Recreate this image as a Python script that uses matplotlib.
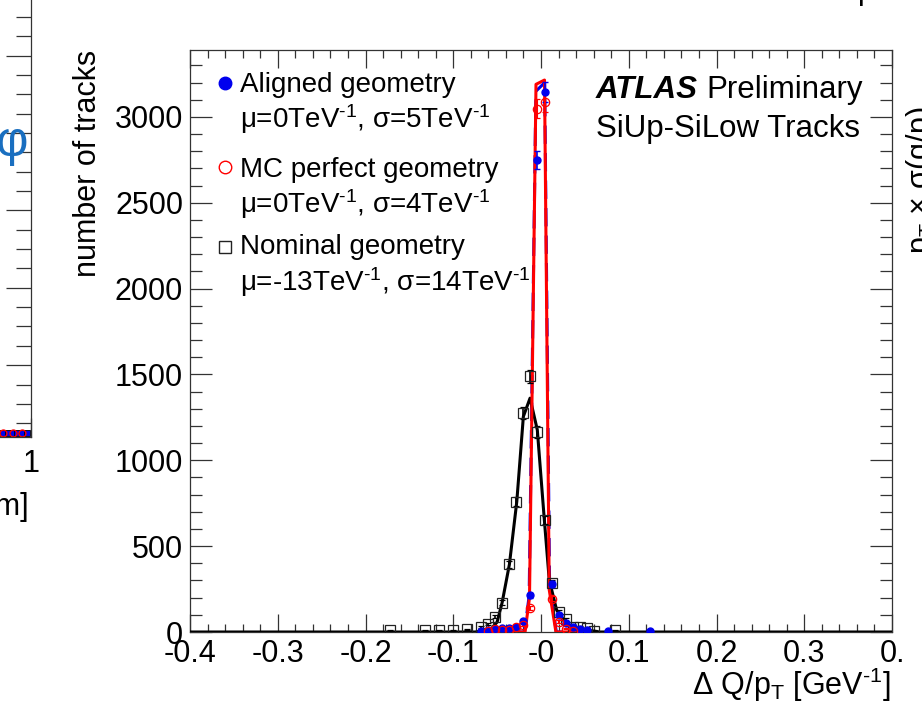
import matplotlib
matplotlib.use('Agg')
import matplotlib.pyplot as plt
from matplotlib.ticker import MultipleLocator, FixedLocator
import numpy as np

plt.rcParams['font.family'] = ['Liberation Sans', 'DejaVu Sans']
plt.rcParams['mathtext.fontset'] = 'custom'
plt.rcParams['mathtext.rm'] = 'Liberation Sans'
plt.rcParams['mathtext.it'] = 'Liberation Sans:italic'
plt.rcParams['mathtext.bf'] = 'Liberation Sans:bold'
plt.rcParams['mathtext.default'] = 'regular'
plt.rcParams['axes.unicode_minus'] = False

W, H, DPI = 922, 718, 100

# Nominal geometry (open squares), bin centres in GeV^-1
nom_x = [-0.172, -0.132, -0.116, -0.100, -0.084, -0.068, -0.060, -0.052, -0.044,
         -0.036, -0.028, -0.020, -0.012, -0.004, 0.004, 0.012, 0.020, 0.028,
         0.036, 0.044, 0.052, 0.060, 0.084]
nom_n = [10, 10, 10, 10, 15, 31, 47, 89, 171,
         394, 759, 1275, 1490, 1167, 653, 285, 118, 74,
         31, 31, 22, 8, 10]

# Aligned geometry (filled circles)
ali_x = [-0.068, -0.060, -0.052, -0.044, -0.036, -0.028, -0.020, -0.012, -0.004,
         0.004, 0.012, 0.020, 0.028, 0.036, 0.044, 0.052, 0.076, 0.124]
ali_n = [8, 12, 15, 21, 21, 31, 64, 215, 2747,
         3146, 280, 99, 51, 30, 16, 10, 8, 5]

# MC perfect geometry (open circles)
mc_x = [-0.060, -0.052, -0.044, -0.036, -0.028, -0.020, -0.012, -0.004,
        0.004, 0.012, 0.020, 0.028, 0.036]
mc_n = [5, 16, 10, 12, 27, 40, 140, 3048,
        3085, 195, 60, 20, 8]

# fitted curves as drawn (coarse polylines)
nom_fit_x = [-0.4, -0.075, -0.0693, -0.0614, -0.056, -0.050, -0.0443, -0.036, -0.0276,
             -0.0201, -0.0125, -0.0042, 0.0038, 0.0094, 0.0178, 0.0292, 0.0443, 0.067, 0.4]
nom_fit_y = [0, 0, 5, 15, 22, 58, 171, 394, 759,
             1255, 1362, 1177, 653, 303, 128, 41, 17, 0, 0]
ali_fit_x = [-0.060, -0.0188, -0.0135, -0.0058, 0.0042, 0.0098, 0.0175, 0.035]
ali_fit_y = [0, 0, 210, 3150, 3200, 270, 0, 0]
mc_fit_x = [-0.058, -0.0182, -0.0131, -0.0057, 0.0040, 0.0094, 0.0170, 0.034]
mc_fit_y = [0, 0, 200, 3190, 3215, 245, 0, 0]

xticks = [-0.4, -0.3, -0.2, -0.1, 0.0, 0.1, 0.2, 0.3, 0.4]
xtick_labels = ['-0.4', '-0.3', '-0.2', '-0.1', '-0', '0.1', '0.2', '0.3', '0.']

# bits of the neighbouring left panel
frag_x = [0.885, 0.905, 0.925, 0.945, 0.965, 0.985]
frag_y = [4, 4, 4, 4, 4, 4]

BLUE = '#0000ee'
RED = '#ff0000'
TXT = 20
INV = r'TeV$^{\text{-}1}$'


def px(x, y):
    # pixel position (from top-left) to figure fraction
    return x / W, 1 - y / H


fig = plt.figure(figsize=(W / DPI, H / DPI), dpi=DPI)
fig.patch.set_facecolor('white')

# ---- main panel ----
ax = fig.add_axes([190 / W, 1 - 632 / H, (892 - 190) / W, (632 - 50) / H])
ax.set_xlim(-0.4, 0.4)
ax.set_ylim(0, 3390)

ax.plot(ali_fit_x, ali_fit_y, color=BLUE, lw=2.2, ls=(0, (6, 3)), zorder=2)
ax.plot(nom_fit_x, nom_fit_y, color='black', lw=2.2, zorder=3)
ax.plot(mc_fit_x, mc_fit_y, color=RED, lw=2.2, zorder=3)

ax.errorbar(nom_x, nom_n, yerr=np.sqrt(nom_n), fmt='s', ms=6.5, mfc='none', mec='#222222',
            mew=0.9, ecolor='black', elinewidth=1.2, capsize=2.5, zorder=4)
ax.errorbar(ali_x, ali_n, yerr=np.sqrt(ali_n), fmt='o', ms=5, mfc=BLUE, mec=BLUE,
            ecolor=BLUE, elinewidth=1.2, capsize=2.5, zorder=5)
ax.errorbar(mc_x, mc_n, yerr=np.sqrt(mc_n), fmt='o', ms=6, mfc='none', mec=RED,
            mew=0.9, ecolor=RED, elinewidth=1.5, capsize=2.5, zorder=5)

ax.set_xticks(xticks, labels=xtick_labels)
ax.xaxis.set_minor_locator(MultipleLocator(0.02))
ax.yaxis.set_major_locator(MultipleLocator(500))
ax.yaxis.set_minor_locator(MultipleLocator(100))
ax.tick_params(which='both', direction='in', top=True, right=True, width=0.9, color='#333333')
ax.tick_params(axis='x', which='major', length=13, labelsize=22, pad=5)
ax.tick_params(axis='x', which='minor', length=5.5)
ax.tick_params(axis='y', which='major', length=16, labelsize=22, pad=5)
ax.tick_params(axis='y', which='minor', length=8.5)
for s in ax.spines.values():
    s.set_linewidth(0.9)
    s.set_color('#333333')

fig.text(*px(88, 50), 'number of tracks', rotation=90, ha='center', va='top', fontsize=22)
fig.text(*px(891, 695), r'$\Delta$ Q/p$_T$ [GeV$^{\text{-}1}$]', ha='right', va='baseline', fontsize=22)

# legend drawn by hand, ROOT style
ax.plot(*px(225, 83), 'o', ms=9, color=BLUE, transform=fig.transFigure, clip_on=False)
ax.plot(*px(225, 167), 'o', ms=9, mfc='none', mec=RED, mew=1, transform=fig.transFigure, clip_on=False)
ax.plot(*px(225, 247), 's', ms=9, mfc='none', mec='#222222', mew=1, transform=fig.transFigure, clip_on=False)
leg_lines = [
    (92, 'Aligned geometry'),
    (128, 'μ=0' + INV + ', σ=5' + INV),
    (177, 'MC perfect geometry'),
    (213, 'μ=0' + INV + ', σ=4' + INV),
    (254, 'Nominal geometry'),
    (291, 'μ=-13' + INV + ', σ=14' + INV),
]
for ypix, txt in leg_lines:
    fig.text(*px(240, ypix), txt, fontsize=TXT, va='baseline')

fig.text(*px(596, 98), 'ATLAS', fontsize=22.5, fontweight='bold', fontstyle='italic', va='baseline')
fig.text(*px(706, 98), 'Preliminary', fontsize=22.5, va='baseline')
fig.text(*px(596, 137), 'SiUp-SiLow Tracks', fontsize=22.5, va='baseline')

# ---- cut-off neighbouring panels ----
ax0 = fig.add_axes([-0.5, 1 - 437 / H, 0.5 + 31 / W, 437 / H + 0.1])
ax0.set_xlim(-1, 1)
ax0.set_ylim(0, 505)
ax0.plot(frag_x, frag_y, 's', ms=5, color=BLUE, mec='black', mew=0.6, clip_on=False)
ax0.plot(frag_x[::2], frag_y[::2], 'o', ms=5, mfc='none', mec=RED, mew=1, clip_on=False)
ax0.yaxis.tick_right()
ax0.yaxis.set_major_locator(FixedLocator(np.arange(71.3, 505, 76.8)))
ax0.yaxis.set_minor_locator(FixedLocator(np.arange(13.7, 505, 19.2)))
ax0.set_xticks([1], labels=['1'])
ax0.tick_params(which='both', direction='in', width=0.9, color='#333333')
ax0.tick_params(axis='y', which='major', length=18, labelright=False)
ax0.tick_params(axis='y', which='minor', length=11)
ax0.tick_params(axis='x', length=14, labelsize=22, pad=9)
for side in ['left', 'top']:
    ax0.spines[side].set_visible(False)
for side in ['right', 'bottom']:
    ax0.spines[side].set_linewidth(0.9)
    ax0.spines[side].set_color('#333333')
fig.text(*px(29, 515), '[mm]', fontsize=22, ha='right', va='baseline')
fig.text(*px(12, 143), 'φ', fontsize=36, color='#1a6fc0', ha='center', va='center')

fig.text(*px(921, 180), 'p$_T$ × σ(q/p)', fontsize=22, rotation=90, ha='center', va='center')
fig.text(*px(866, -1), 'p', fontsize=22, ha='center', va='baseline')

fig.savefig('out.png', dpi=DPI, facecolor='white')
